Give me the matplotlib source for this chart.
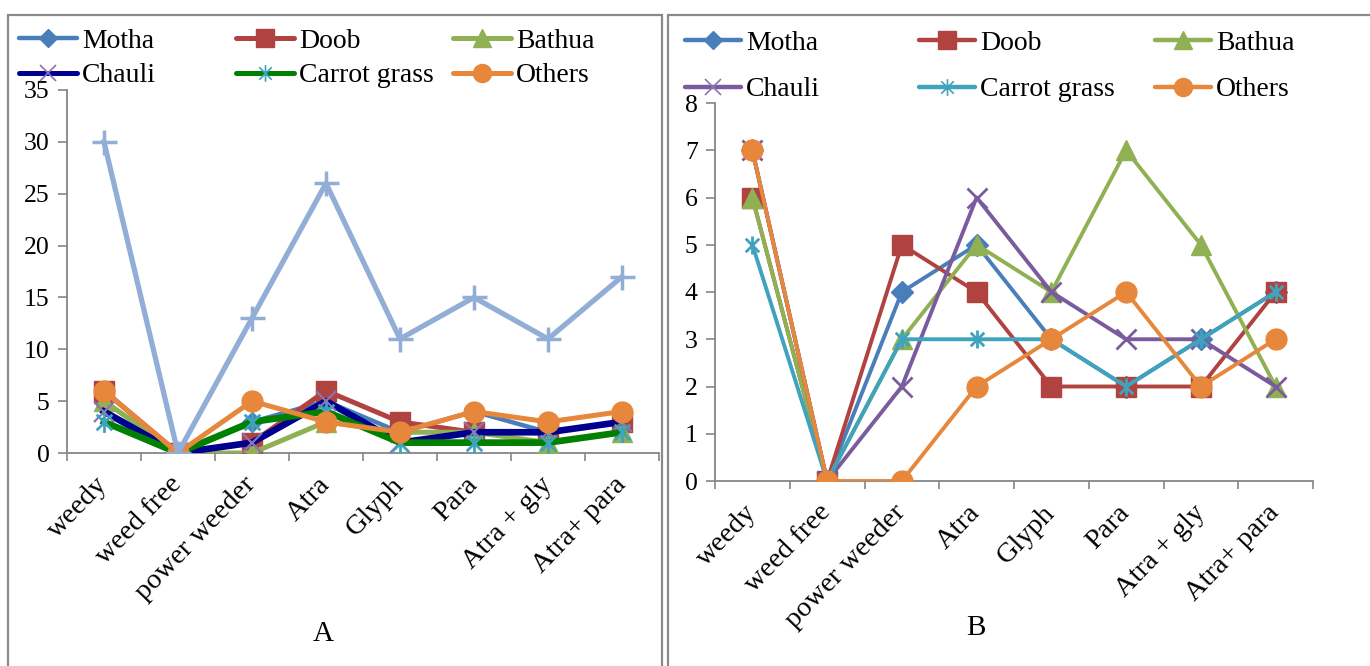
import matplotlib
matplotlib.use("Agg")
import matplotlib.pyplot as plt
from matplotlib.lines import Line2D
from matplotlib.patches import Rectangle
from matplotlib.path import Path
import numpy as np

plt.rcParams['font.family'] = ['Liberation Serif', 'DejaVu Serif']

categories = ["weedy", "weed free", "power weeder", "Atra", "Glyph", "Para", "Atra + gly", "Atra+ para"]
series_names = ["Motha", "Doob", "Bathua", "Chauli", "Carrot grass", "Others"]

# Panel A values
a_motha = [5, 0, 3, 5, 2, 4, 2, 3]
a_doob = [6, 0, 1, 6, 3, 2, 2, 3]
a_bathua = [5, 0, 0, 3, 2, 2, 1, 2]
a_chauli = [4, 0, 1, 5, 1, 2, 2, 3]
a_carrot = [3, 0, 3, 4, 1, 1, 1, 2]
a_others = [6, 0, 5, 3, 2, 4, 3, 4]
a_total = [30, 0, 13, 26, 11, 15, 11, 17]

# Panel B values
b_motha = [7, 0, 4, 5, 3, 2, 3, 4]
b_doob = [6, 0, 5, 4, 2, 2, 2, 4]
b_bathua = [6, 0, 3, 5, 4, 7, 5, 2]
b_chauli = [7, 0, 2, 6, 4, 3, 3, 2]
b_carrot = [5, 0, 3, 3, 3, 2, 3, 4]
b_others = [7, 0, 0, 2, 3, 4, 2, 3]

W, H = 1370, 666
fig = plt.figure(figsize=(W / 100, H / 100), dpi=100)

def fx(px):
    return px / W

def fy(py):
    return 1 - py / H

# asterisk marker: vertical bar + X
ast = Path([(0, -1), (0, 1), (-0.75, -0.75), (0.75, 0.75), (-0.75, 0.75), (0.75, -0.75)],
           [Path.MOVETO, Path.LINETO, Path.MOVETO, Path.LINETO, Path.MOVETO, Path.LINETO])

C_MOTHA = '#4A7EBB'
C_DOOB = '#B0433F'
C_BATHUA = '#8FB153'
C_CHAULI_A = '#00008F'
C_CHAULI_B = '#7A5C9E'
C_CHAULI_MK = '#8C74B0'
C_CARROT_A = '#008000'
C_CARROT = '#3FA3BE'
C_OTHERS = '#E6873B'
C_TOTAL = '#93AED6'
SPINE = '#868686'


def setup_axes(ax, ymax, ystep):
    x = np.arange(len(categories))
    ax.set_xlim(-0.5, len(categories) - 0.5)
    ax.set_ylim(0, ymax)
    ax.set_yticks(np.arange(0, ymax + 0.01, ystep))
    ax.set_xticks(x)
    ax.set_xticks(np.arange(-0.5, len(categories)), minor=True)
    ax.set_xticklabels(categories, rotation=46, ha='right', va='center',
                       rotation_mode='anchor', fontsize=20.5)
    ax.tick_params(axis='x', which='major', length=0, pad=20)
    ax.tick_params(axis='x', which='minor', length=6, width=1.2, color=SPINE, direction='out')
    ax.tick_params(axis='y', length=6.5, width=1.2, color=SPINE, labelsize=18.5, pad=6)
    for s in ['top', 'right']:
        ax.spines[s].set_visible(False)
    for s in ['left', 'bottom']:
        ax.spines[s].set_color(SPINE)
        ax.spines[s].set_linewidth(1.3)
    ax.set_facecolor('none')


# ---------- Panel A ----------
axA = fig.add_axes([fx(67), fy(453), fx(659) - fx(67), fy(90) - fy(453)])
setup_axes(axA, 35, 5)
xa = np.arange(len(categories))
axA.plot(xa, a_motha, color=C_MOTHA, lw=3.2, marker='D', ms=10, mfc=C_MOTHA, mec=C_MOTHA, zorder=3)
axA.plot(xa, a_doob, color=C_DOOB, lw=3.6, marker='s', ms=14, mfc=C_DOOB, mec=C_DOOB, zorder=3)
axA.plot(xa, a_bathua, color=C_BATHUA, lw=3.6, marker='^', ms=15, mfc=C_BATHUA, mec=C_BATHUA, zorder=3)
axA.plot(xa, a_chauli, color=C_CHAULI_A, lw=4.8, marker='x', ms=14, mec=C_CHAULI_MK, mew=1.6, zorder=3)
axA.plot(xa, a_carrot, color=C_CARROT_A, lw=4.8, marker=ast, ms=15, mec=C_CARROT, mew=2.0, zorder=3)
axA.plot(xa, a_others, color=C_OTHERS, lw=3.6, marker='o', ms=15, mfc=C_OTHERS, mec=C_OTHERS, zorder=3)
axA.plot(xa, a_total, color=C_TOTAL, lw=3.8, marker='+', ms=18, mec=C_TOTAL, mew=2.5, zorder=3)

# ---------- Panel B ----------
axB = fig.add_axes([fx(715), fy(481), fx(1313) - fx(715), fy(103) - fy(481)])
setup_axes(axB, 8, 1)
axB.plot(xa, b_motha, color=C_MOTHA, lw=2.8, marker='D', ms=11, mfc=C_MOTHA, mec=C_MOTHA, zorder=3)
axB.plot(xa, b_doob, color=C_DOOB, lw=2.8, marker='s', ms=14, mfc=C_DOOB, mec=C_DOOB, zorder=3)
axB.plot(xa, b_bathua, color=C_BATHUA, lw=2.8, marker='^', ms=15, mfc=C_BATHUA, mec=C_BATHUA, zorder=3)
axB.plot(xa, b_chauli, color=C_CHAULI_B, lw=2.8, marker='x', ms=14, mec=C_CHAULI_B, mew=2, zorder=3)
axB.plot(xa, b_carrot, color=C_CARROT, lw=2.8, marker=ast, ms=13, mec=C_CARROT, mew=2, zorder=3)
axB.plot(xa, b_others, color=C_OTHERS, lw=2.8, marker='o', ms=15, mfc=C_OTHERS, mec=C_OTHERS, zorder=3)

# ---------- Panel borders ----------
fig.add_artist(Rectangle((fx(8), fy(700)), fx(662) - fx(8), fy(15) - fy(700),
                         transform=fig.transFigure, fill=False, ec='#8a8a8a', lw=1.6))
fig.add_artist(Rectangle((fx(668), fy(700)), fx(1400) - fx(668), fy(15) - fy(700),
                         transform=fig.transFigure, fill=False, ec='#8a8a8a', lw=1.6))

# ---------- Legends (manual, Excel-like grid) ----------
legA_styles = [
    dict(color=C_MOTHA, marker='D', ms=9, mfc=C_MOTHA, mec=C_MOTHA, lw=3.2),
    dict(color=C_DOOB, marker='s', ms=13, mfc=C_DOOB, mec=C_DOOB, lw=3.6),
    dict(color=C_BATHUA, marker='^', ms=13, mfc=C_BATHUA, mec=C_BATHUA, lw=3.6),
    dict(color=C_CHAULI_A, marker='x', ms=12, mec=C_CHAULI_MK, mew=1.2, lw=3.6),
    dict(color=C_CARROT_A, marker=ast, ms=12, mec=C_CARROT, mew=1.2, lw=3.6),
    dict(color=C_OTHERS, marker='o', ms=13, mfc=C_OTHERS, mec=C_OTHERS, lw=3.6),
]
legB_styles = [
    dict(color=C_MOTHA, marker='D', ms=9, mfc=C_MOTHA, mec=C_MOTHA, lw=3.2),
    dict(color=C_DOOB, marker='s', ms=13, mfc=C_DOOB, mec=C_DOOB, lw=3.2),
    dict(color=C_BATHUA, marker='^', ms=13, mfc=C_BATHUA, mec=C_BATHUA, lw=3.2),
    dict(color=C_CHAULI_B, marker='x', ms=12, mec=C_CHAULI_MK, mew=1.2, lw=3.2),
    dict(color=C_CARROT, marker=ast, ms=12, mec=C_CARROT, mew=1.2, lw=3.2),
    dict(color=C_OTHERS, marker='o', ms=13, mfc=C_OTHERS, mec=C_OTHERS, lw=3.2),
]


def draw_legend(styles, col_x, rows_y, half):
    for i, name in enumerate(series_names):
        r, c = divmod(i, 3)
        xc = col_x[c]
        y = rows_y[r]
        st = dict(styles[i])
        marker = st.pop('marker')
        ms = st.pop('ms')
        mfc = st.pop('mfc', 'none')
        mec = st.pop('mec')
        mew = st.pop('mew', 1.0)
        fig.add_artist(Line2D([fx(xc - half), fx(xc + half)], [fy(y), fy(y)],
                              transform=fig.transFigure, solid_capstyle='round', **st))
        fig.add_artist(Line2D([fx(xc)], [fy(y)], transform=fig.transFigure, ls='none',
                              marker=marker, ms=ms, mfc=mfc, mec=mec, mew=mew))
        fig.text(fx(xc + half + 5), fy(y), name, fontsize=20, ha='left', va='center_baseline')


draw_legend(legA_styles, [48, 265, 482], [38, 73], 29)
draw_legend(legB_styles, [713, 947, 1183], [40, 87], 28)

# ---------- Panel labels ----------
fig.text(fx(323), fy(634), 'A', fontsize=21, ha='center', va='center')
fig.text(fx(976), fy(628), 'B', fontsize=21, ha='center', va='center')

fig.savefig('out.png', dpi=100)
